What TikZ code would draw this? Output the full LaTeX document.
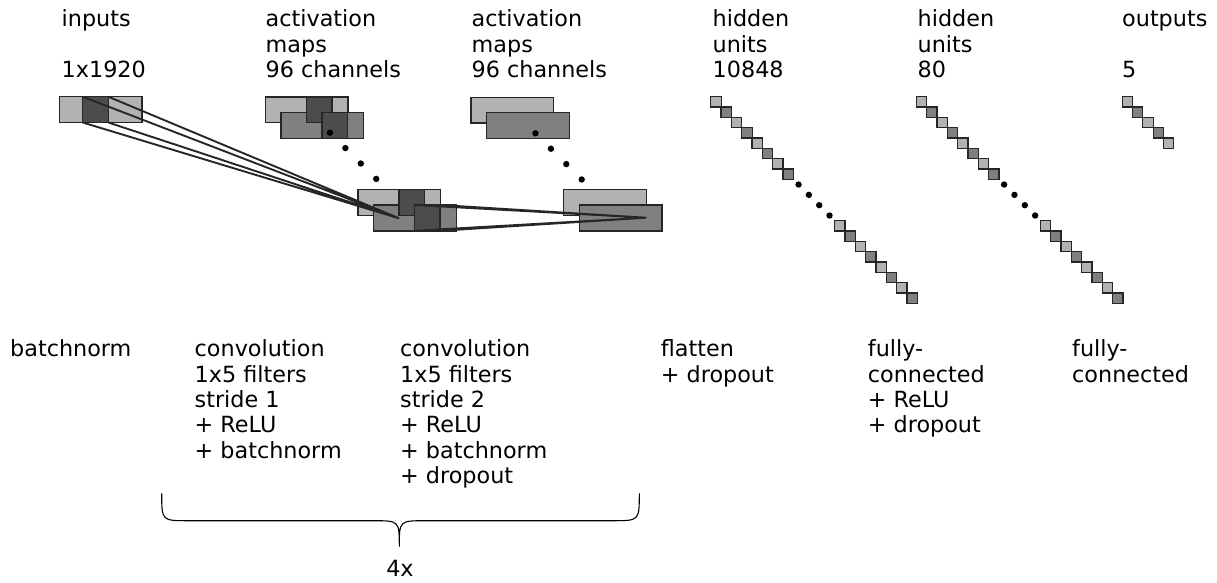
\documentclass[tikz,border=0pt]{standalone}
\usepackage{fontspec}
\setmainfont{DejaVu Sans}
\usetikzlibrary{positioning}
\definecolor{lightgr}{gray}{0.7}
\definecolor{medgr}{gray}{0.5}
\definecolor{darkgr}{gray}{0.3}

\begin{document}
\begin{tikzpicture}[x=1pt, y=-1pt, on grid,
  map node/.style={rectangle, draw=black!85, line width=1.4pt, minimum width=82.7pt, minimum height=25.8pt, inner sep=0pt, outer sep=0pt},
  kernel node/.style={map node, fill=darkgr, minimum width=25.6pt},
  unit node/.style={rectangle, draw=black!85, line width=1.2pt, minimum size=10.4pt, inner sep=0pt, outer sep=0pt},
  dot node/.style={circle, fill=black, inner sep=0pt, minimum size=6.4pt},
  conn/.style={draw=black!85, line width=1.9pt},
  label node/.style={anchor=base west, align=left, inner sep=0pt, font=\fontsize{22.3}{25.4}\selectfont}]

\useasboundingbox (0,0) rectangle (1217,583);

% inputs
\node[map node, fill=lightgr, anchor=north west] (in) at (59.3,96.7) {};
\node[kernel node] (ink) [left=5.2pt of in] {};

% activation maps, conv 1
\node[map node, fill=lightgr, anchor=north west] (m1a) at (265.3,97) {};
\node[map node, fill=medgr] (m1b) [below right=15.5pt and 15.5pt of m1a] {};
\node[map node, fill=lightgr, anchor=north west] (m1c) at (358,189.5) {};
\node[map node, fill=medgr] (m1d) [below right=15.5pt and 15.5pt of m1c] {};
\node[kernel node] (m1ak) [right=12.5pt of m1a] {};
\node[kernel node] (m1bk) [right=12.5pt of m1b] {};
\node[kernel node] (m1ck) [right=12.5pt of m1c] {};
\node[kernel node] (m1dk) [right=12.5pt of m1d] {};
\foreach \i in {0,...,3}
  \node[dot node] (m1dot\i) at (330+15.4*\i, 132.7+15.4*\i) {};

% activation maps, conv 2
\node[map node, fill=lightgr, anchor=north west] (m2a) at (471,97.3) {};
\node[map node, fill=medgr] (m2b) [below right=15.5pt and 15.5pt of m2a] {};
\node[map node, fill=lightgr, anchor=north west] (m2c) at (563.7,189.5) {};
\node[map node, fill=medgr] (m2d) [below right=15.5pt and 15.5pt of m2c] {};
\foreach \i in {0,...,3}
  \node[dot node] (m2dot\i) at (535.5+15.4*\i, 133.3+15.4*\i) {};

% receptive fields
\coordinate (c1) at (399,218.3);
\coordinate (c2) at (646,217.7);
\draw[conn] (ink.north west) -- (c1) (ink.north east) -- (c1)
            (ink.south west) -- (c1) (ink.south east) -- (c1);
\draw[conn] (m1dk.north west) -- (c2) (m1dk.north east) -- (c2)
            (m1dk.south west) -- (c2) (m1dk.south east) -- (c2);

% hidden units and outputs
\foreach \i in {0,1,2,3,4,5,6,7,12,13,14,15,16,17,18,19}{
  \ifodd\i \def\shade{medgr}\else \def\shade{lightgr}\fi
  \node[unit node, fill=\shade] (h1u\i) at (715.9+10.33*\i, 101.9+10.33*\i) {};
  \node[unit node, fill=\shade] (h2u\i) at (921.5+10.33*\i, 101.9+10.33*\i) {};
}
\foreach \i in {8,...,11}{
  \node[dot node] (h1dot\i) at (715.9+10.33*\i, 101.9+10.33*\i) {};
  \node[dot node] (h2dot\i) at (921.5+10.33*\i, 101.9+10.33*\i) {};
}
\foreach \i in {0,...,4}{
  \ifodd\i \def\shade{medgr}\else \def\shade{lightgr}\fi
  \node[unit node, fill=\shade] (ou\i) at (1127.3+10.33*\i, 101.9+10.33*\i) {};
}

% layer labels (anchored on their last line)
\node[label node] (lin) at (61.5,77.5) {inputs\\[25.4pt]1x1920};
\node[label node] (lm1) at (265.5,77.5) {activation\\maps\\96 channels};
\node[label node] (lm2) at (471.5,77.5) {activation\\maps\\96 channels};
\node[label node] (lh1) at (712.5,77.5) {hidden\\units\\10848};
\node[label node] (lh2) at (917.5,77.5) {hidden\\units\\80};
\node[label node] (lout) at (1122,77.5) {outputs\\[25.4pt]5};

% operation labels
\node[label node] (obn) at (10,356.7) {batchnorm};
\node[label node] (oc1) at (194.5,458.3) {convolution\\1x5 filters\\stride 1\\+ ReLU\\+ batchnorm};
\node[label node] (oc2) at (400,483.7) {convolution\\1x5 filters\\stride 2\\+ ReLU\\+ batchnorm\\+ dropout};
\node[label node] (ofl) at (660.7,382.1) {flatten\\+ dropout};
\node[label node] (ofc1) at (867.7,432.9) {fully-\\connected\\+ ReLU\\+ dropout};
\node[label node] (ofc2) at (1072,382.1) {fully-\\connected};

% repeat brace
\coordinate (bl) at (161.7,493.3);
\coordinate (bm) at (399.3,546.7);
\coordinate (br) at (639.3,493.3);
\draw[line width=1.1pt] (bl) .. controls (161.7,520.7) .. (188,520.7) -- (373,520.7)
  .. controls (399.3,520.7) .. (bm) .. controls (399.3,520.7) .. (425.6,520.7)
  -- (613,520.7) .. controls (639.3,520.7) .. (br);
\node[label node, anchor=base] (lrep) at (400,576) {4x};

\end{tikzpicture}
\end{document}
